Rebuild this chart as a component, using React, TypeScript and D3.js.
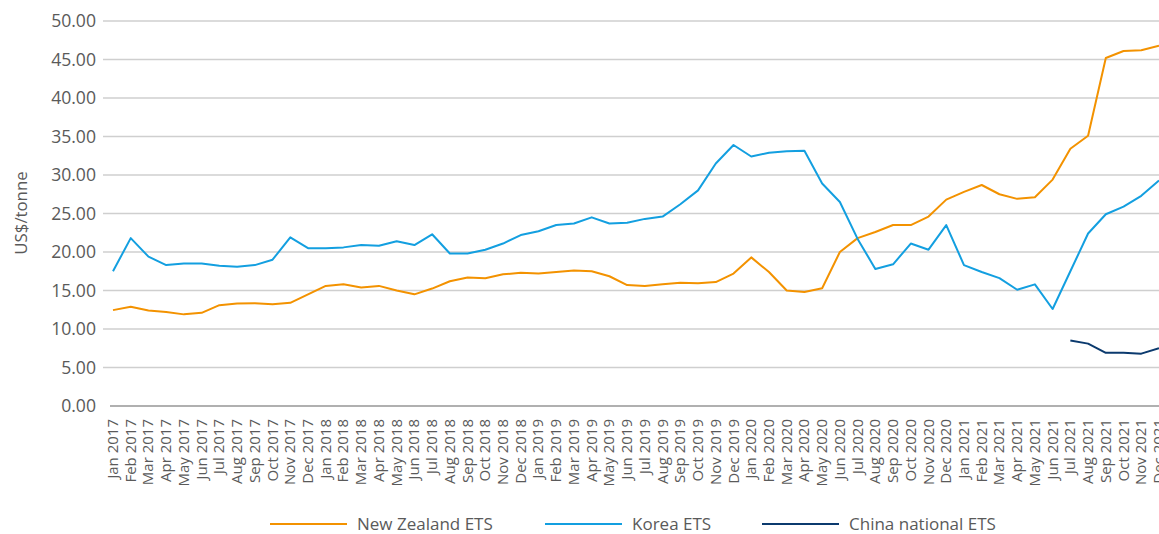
import { scaleLinear, scalePoint, line, format, range } from 'd3'

const monthNames = ['Jan', 'Feb', 'Mar', 'Apr', 'May', 'Jun', 'Jul', 'Aug', 'Sep', 'Oct', 'Nov', 'Dec']
const years = [2017, 2018, 2019, 2020, 2021]
const months: string[] = years.flatMap(y => monthNames.map(m => `${m} ${y}`))

const yTicks = range(0, 50.01, 5)

const newZealand = [
  12.45, 12.9, 12.4, 12.2, 11.9, 12.1, 13.1, 13.3, 13.35, 13.2, 13.4, 14.5,
  15.6, 15.8, 15.4, 15.6, 15.0, 14.5, 15.25, 16.2, 16.7, 16.6, 17.1, 17.3,
  17.2, 17.4, 17.6, 17.5, 16.85, 15.7, 15.6, 15.8, 16.0, 15.95, 16.1, 17.2,
  19.3, 17.4, 15.0, 14.8, 15.3, 20.0, 21.8, 22.6, 23.5, 23.5, 24.6, 26.8,
  27.8, 28.7, 27.5, 26.9, 27.1, 29.4, 33.4, 35.1, 45.2, 46.1, 46.2, 46.8,
]
const korea = [
  17.5, 21.8, 19.4, 18.3, 18.5, 18.5, 18.2, 18.1, 18.3, 19.0, 21.9, 20.5,
  20.5, 20.6, 20.9, 20.8, 21.4, 20.9, 22.3, 19.8, 19.8, 20.3, 21.1, 22.2,
  22.7, 23.5, 23.7, 24.5, 23.7, 23.8, 24.3, 24.6, 26.2, 28.0, 31.5, 33.9,
  32.4, 32.9, 33.1, 33.15, 28.9, 26.5, 21.7, 17.8, 18.4, 21.1, 20.3, 23.5,
  18.3, 17.4, 16.6, 15.1, 15.8, 12.6, 17.5, 22.4, 24.9, 25.9, 27.3, 29.3,
]
// China national ETS starts trading Jul 2021
const chinaMonths = ['Jul 2021', 'Aug 2021', 'Sep 2021', 'Oct 2021', 'Nov 2021', 'Dec 2021']
const china = [8.5, 8.1, 6.9, 6.9, 6.8, 7.5]

const series = [
  { name: 'New Zealand ETS', color: '#f39200', x: months, values: newZealand },
  { name: 'Korea ETS', color: '#139fe0', x: months, values: korea },
  { name: 'China national ETS', color: '#0b3a6e', x: chinaMonths, values: china },
]

const legendX = [270, 545, 762]

export default function App() {
  const width = 1159
  const height = 534
  const font = '"Open Sans", "Noto Sans", sans-serif'
  const textColor = '#5a5a5a'

  const x = scalePoint<string>().domain(months).range([113, 1159])
  const y = scaleLinear().domain([0, 50]).range([406, 21])
  const fmt = format('.2f')

  return (
    <svg width={width} height={height} style={{ position: 'absolute', left: 0, top: 0, background: '#fff' }}
      fontFamily={font}>
      {/* grid */}
      <g>
        {yTicks.map(t => (
          <g key={t}>
            <line x1={t === 0 ? 110 : 103} x2={width} y1={y(t)} y2={y(t)}
              stroke={t === 0 ? '#b0b0b0' : '#cfcfcf'} strokeWidth={t === 0 ? 2 : 1.3} />
            <text x={96} y={y(t)} dy="0.36em" textAnchor="end" fontSize={17.6} fill={textColor}>{fmt(t)}</text>
          </g>
        ))}
      </g>
      <text transform={`translate(27,213) rotate(-90)`} textAnchor="middle" fontSize={16.8} fill={textColor}>US$/tonne</text>

      {/* x labels */}
      <g>
        {months.map(m => (
          <text key={m} transform={`translate(${x(m)! + 5},419) rotate(-90)`} textAnchor="end"
            fontSize={15} fill={textColor}>{m}</text>
        ))}
      </g>

      {/* lines */}
      <g fill="none" strokeWidth={2} strokeLinejoin="round">
        {series.map(s => {
          const path = line<number>()
            .x((_, i) => x(s.x[i])!)
            .y(d => y(d))
          return <path key={s.name} d={path(s.values) ?? ''} stroke={s.color} />
        })}
      </g>

      {/* legend */}
      <g>
        {series.map((s, i) => (
          <g key={s.name} transform={`translate(${legendX[i]},524)`}>
            <line x1={0} x2={77} y1={0} y2={0} stroke={s.color} strokeWidth={2} />
            <text x={87} y={0} dy="0.35em" fontSize={17} fill={textColor}>{s.name}</text>
          </g>
        ))}
      </g>
    </svg>
  )
}
